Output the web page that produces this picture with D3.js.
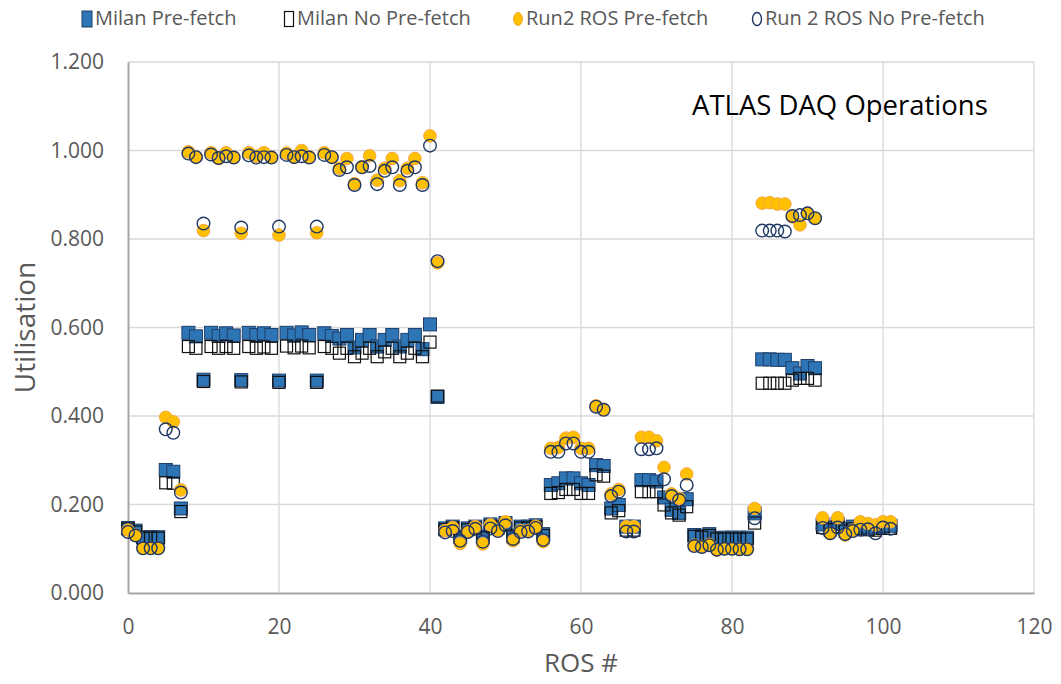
<!DOCTYPE html>
<html>
<head>
<meta charset="utf-8">
<script src="https://cdn.jsdelivr.net/npm/d3@7"></script>
<style>
  body { margin: 0; background: #fff; }
  svg { display: block; font-family: "Open Sans", sans-serif; }
</style>
</head>
<body>
<svg id="chart" width="1061" height="684"></svg>
<script>
// Utilisation per ROS (array index = ROS #)
const milanPre = [
  0.147, 0.141, 0.126, 0.126, 0.126, 0.278, 0.274, 0.191,
  0.588, 0.580, 0.482, 0.588, 0.581, 0.587, 0.582, 0.481, 0.588, 0.583, 0.587, 0.583,
  0.480, 0.588, 0.582, 0.589, 0.583, 0.480, 0.587, 0.581,
  0.575, 0.583, 0.555, 0.572, 0.583, 0.557, 0.572, 0.583, 0.557, 0.572, 0.583, 0.551, 0.607, 0.443,
  0.146, 0.150, 0.127, 0.146, 0.150, 0.127, 0.155, 0.150, 0.158, 0.130, 0.150, 0.150, 0.153, 0.133,
  0.244, 0.248, 0.259, 0.259, 0.248, 0.244, 0.289, 0.287, 0.191, 0.199, 0.150, 0.150, 0.255, 0.255, 0.252, 0.216, 0.188, 0.181, 0.212,
  0.131, 0.129, 0.133, 0.124, 0.125, 0.125, 0.125, 0.125, 0.180,
  0.528, 0.528, 0.527, 0.527, 0.508, 0.496, 0.513, 0.508,
  0.155, 0.148, 0.156, 0.145, 0.150, 0.150, 0.148, 0.147, 0.152, 0.152
];
const milanNo = [
  0.145, 0.138, 0.124, 0.124, 0.124, 0.249, 0.248, 0.184,
  0.557, 0.553, 0.478, 0.557, 0.553, 0.557, 0.553, 0.477, 0.557, 0.553, 0.556, 0.553,
  0.476, 0.558, 0.554, 0.558, 0.554, 0.476, 0.557, 0.553,
  0.542, 0.553, 0.534, 0.542, 0.553, 0.534, 0.545, 0.553, 0.534, 0.542, 0.553, 0.534, 0.567, 0.445,
  0.143, 0.147, 0.125, 0.143, 0.147, 0.125, 0.151, 0.147, 0.155, 0.127, 0.147, 0.147, 0.150, 0.130,
  0.225, 0.227, 0.234, 0.234, 0.225, 0.225, 0.267, 0.264, 0.181, 0.186, 0.142, 0.142, 0.229, 0.229, 0.229, 0.199, 0.181, 0.176, 0.195,
  0.128, 0.126, 0.130, 0.122, 0.122, 0.122, 0.122, 0.122, 0.158,
  0.474, 0.474, 0.474, 0.474, 0.481, 0.485, 0.485, 0.481,
  0.148, 0.143, 0.150, 0.140, 0.145, 0.145, 0.143, 0.142, 0.146, 0.146
];
const run2Pre = [
  0.142, 0.131, 0.101, 0.101, 0.101, 0.397, 0.387, 0.233,
  0.997, 0.986, 0.819, 0.995, 0.982, 0.995, 0.985, 0.813, 0.995, 0.987, 0.995, 0.985,
  0.809, 0.994, 0.986, 1.000, 0.986, 0.814, 0.995, 0.985,
  0.960, 0.982, 0.925, 0.963, 0.988, 0.933, 0.960, 0.982, 0.932, 0.960, 0.982, 0.927, 1.033, 0.746,
  0.141, 0.148, 0.112, 0.139, 0.150, 0.111, 0.154, 0.142, 0.161, 0.118, 0.141, 0.141, 0.151, 0.116,
  0.327, 0.329, 0.350, 0.352, 0.327, 0.327, 0.423, 0.415, 0.224, 0.234, 0.150, 0.150, 0.352, 0.352, 0.344, 0.284, 0.224, 0.214, 0.269,
  0.108, 0.105, 0.110, 0.097, 0.100, 0.100, 0.099, 0.099, 0.191,
  0.881, 0.882, 0.879, 0.879, 0.850, 0.832, 0.858, 0.847,
  0.170, 0.135, 0.170, 0.131, 0.142, 0.161, 0.157, 0.154, 0.161, 0.161
];
const run2No = [
  0.138, 0.130, 0.101, 0.101, 0.101, 0.370, 0.362, 0.227,
  0.993, 0.985, 0.835, 0.991, 0.983, 0.987, 0.984, 0.826, 0.989, 0.984, 0.985, 0.984,
  0.828, 0.990, 0.985, 0.987, 0.984, 0.828, 0.990, 0.985,
  0.956, 0.962, 0.922, 0.962, 0.965, 0.924, 0.954, 0.962, 0.922, 0.954, 0.962, 0.922, 1.011, 0.750,
  0.137, 0.140, 0.118, 0.138, 0.145, 0.116, 0.146, 0.140, 0.153, 0.122, 0.138, 0.139, 0.147, 0.120,
  0.319, 0.319, 0.338, 0.338, 0.319, 0.319, 0.421, 0.414, 0.219, 0.229, 0.139, 0.139, 0.325, 0.325, 0.327, 0.257, 0.219, 0.210, 0.244,
  0.106, 0.104, 0.108, 0.098, 0.100, 0.100, 0.099, 0.099, 0.169,
  0.819, 0.819, 0.819, 0.817, 0.852, 0.854, 0.858, 0.847,
  0.147, 0.135, 0.148, 0.133, 0.140, 0.143, 0.144, 0.135, 0.148, 0.145
];

const xTicks = [0, 20, 40, 60, 80, 100, 120];
const yTicks = [0, 0.2, 0.4, 0.6, 0.8, 1.0, 1.2];

const seriesNames = ['Milan Pre-fetch', 'Milan No Pre-fetch', 'Run2 ROS Pre-fetch', 'Run 2 ROS No Pre-fetch'];

const svg = d3.select('#chart');
const margin = { top: 62, right: 27, bottom: 91, left: 128 };
const width = 1061, height = 684;
const innerW = width - margin.left - margin.right;
const innerH = height - margin.top - margin.bottom;

const x = d3.scaleLinear().domain([0, 120]).range([0, innerW]);
const y = d3.scaleLinear().domain([0, 1.2]).range([innerH, 0]);

const g = svg.append('g').attr('transform', `translate(${margin.left},${margin.top})`);

// gridlines
g.append('g').selectAll('line').data(yTicks.slice(1)).join('line')
  .attr('x1', 0).attr('x2', innerW)
  .attr('y1', d => y(d)).attr('y2', d => y(d))
  .attr('stroke', '#d9d9d9').attr('stroke-width', 1.3);
g.append('g').selectAll('line').data(xTicks.slice(1)).join('line')
  .attr('x1', d => x(d)).attr('x2', d => x(d))
  .attr('y1', 0).attr('y2', innerH)
  .attr('stroke', '#d9d9d9').attr('stroke-width', 1.3);

// axes
const yAxis = g.append('g')
  .call(d3.axisLeft(y).tickValues(yTicks).tickFormat(d3.format('.3f')).tickSize(0).tickPadding(24));
const xAxis = g.append('g').attr('transform', `translate(0,${innerH})`)
  .call(d3.axisBottom(x).tickValues(xTicks).tickSize(0).tickPadding(26));
[yAxis, xAxis].forEach(a => {
  a.select('.domain').attr('stroke', '#a6a6a6').attr('stroke-width', 2);
  a.selectAll('text').attr('fill', '#595959').style('font-size', '21px')
    .style('font-family', '"Open Sans", sans-serif');
});

// axis titles
svg.append('text')
  .attr('transform', `translate(28,${margin.top + innerH / 2}) rotate(-90)`)
  .attr('text-anchor', 'middle').attr('dominant-baseline', 'middle')
  .attr('fill', '#595959').style('font-size', '28px')
  .text('Utilisation');
svg.append('text')
  .attr('x', margin.left + x(60)).attr('y', 665)
  .attr('text-anchor', 'middle').attr('dominant-baseline', 'middle')
  .attr('fill', '#595959').style('font-size', '26px')
  .text('ROS #');

// chart title box
svg.append('text')
  .attr('x', 692).attr('y', 108)
  .attr('dominant-baseline', 'middle')
  .attr('fill', '#000').style('font-size', '27.5px')
  .text('ATLAS DAQ Operations');

// markers, drawn in series order
const sq = 13, sqOpen = 12, rad = 6.3;
const plot = g.append('g');

plot.append('g').selectAll('rect').data(milanPre).join('rect')
  .attr('x', (d, i) => x(i) - sq / 2).attr('y', d => y(d) - sq / 2)
  .attr('width', sq).attr('height', sq)
  .attr('fill', '#2e75b6').attr('stroke', '#1f3f6a').attr('stroke-width', 1);

plot.append('g').selectAll('rect').data(milanNo).join('rect')
  .attr('x', (d, i) => x(i) - sqOpen / 2).attr('y', d => y(d) - sqOpen / 2)
  .attr('width', sqOpen).attr('height', sqOpen)
  .attr('fill', 'none').attr('stroke', '#111').attr('stroke-width', 1.2);

plot.append('g').selectAll('circle').data(run2Pre).join('circle')
  .attr('cx', (d, i) => x(i)).attr('cy', d => y(d)).attr('r', rad)
  .attr('fill', '#ffc000').attr('stroke', '#f5a742').attr('stroke-width', 1);

plot.append('g').selectAll('circle').data(run2No).join('circle')
  .attr('cx', (d, i) => x(i)).attr('cy', d => y(d)).attr('r', rad)
  .attr('fill', 'none').attr('stroke', '#1f3864').attr('stroke-width', 1.4);

// legend
const legendX = [87, 289, 518, 757];
const leg = svg.append('g').attr('transform', 'translate(0,19)');
seriesNames.forEach((name, i) => {
  const item = leg.append('g').attr('transform', `translate(${legendX[i]},0)`);
  if (i === 0) {
    item.append('rect').attr('x', -5).attr('y', -8).attr('width', 10).attr('height', 16)
      .attr('fill', '#2e75b6').attr('stroke', '#1f3f6a').attr('stroke-width', 1);
  } else if (i === 1) {
    item.append('rect').attr('x', -4.5).attr('y', -7.5).attr('width', 9).attr('height', 15)
      .attr('fill', 'none').attr('stroke', '#111').attr('stroke-width', 1.2);
  } else if (i === 2) {
    item.append('ellipse').attr('rx', 4.5).attr('ry', 6.5)
      .attr('fill', '#ffc000').attr('stroke', '#f5a742').attr('stroke-width', 1);
  } else {
    item.append('ellipse').attr('rx', 4.5).attr('ry', 6.5)
      .attr('fill', 'none').attr('stroke', '#1f3864').attr('stroke-width', 1.4);
  }
  item.append('text').attr('x', 8).attr('y', 1).attr('dominant-baseline', 'middle')
    .attr('fill', '#595959').style('font-size', '20px').text(name);
});
</script>
</body>
</html>
